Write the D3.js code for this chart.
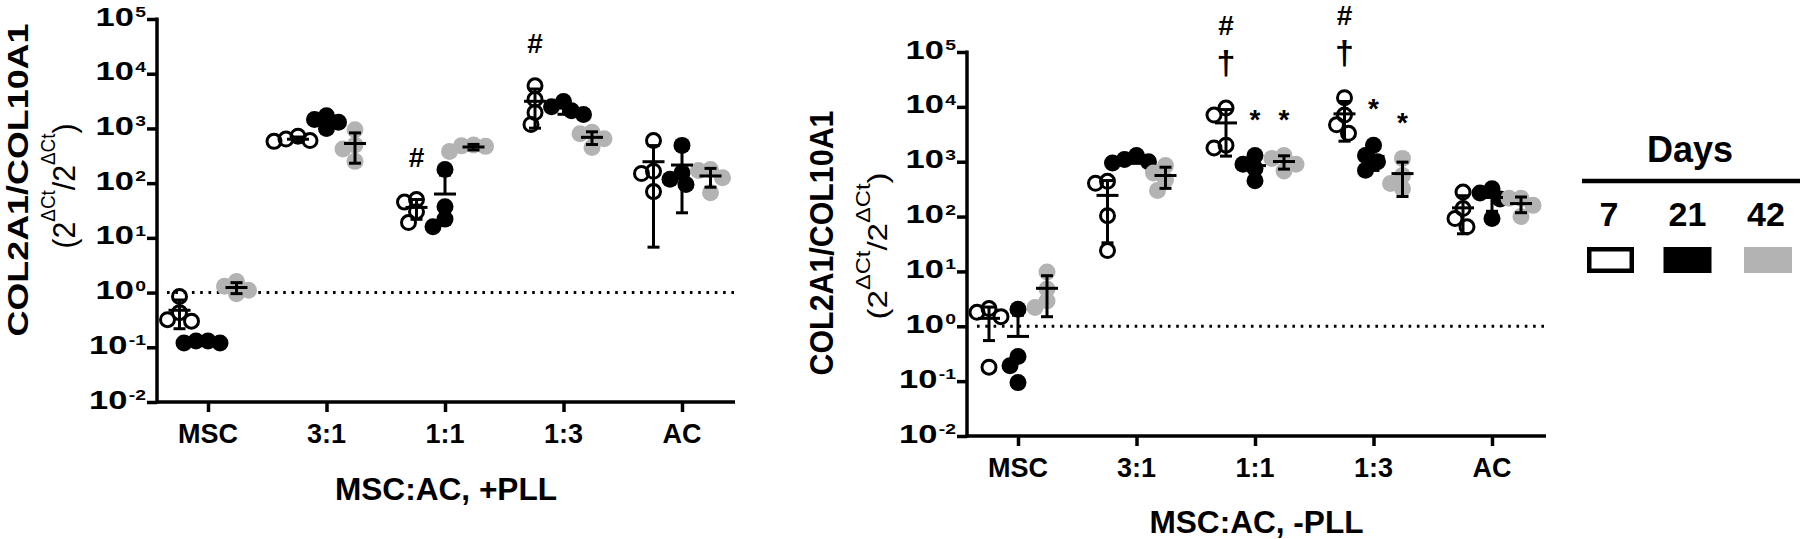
<!DOCTYPE html>
<html><head><meta charset="utf-8">
<script src="https://cdn.jsdelivr.net/npm/d3@7"></script>
<style>body{margin:0;background:#fff}svg{display:block}</style>
</head><body><svg id="c" width="1800" height="539"></svg>
<script>
// ---------------- data ----------------
const categories = ["MSC", "3:1", "1:1", "1:3", "AC"];
const days = ["7", "21", "42"];
const yTickExps = [-2, -1, 0, 1, 2, 3, 4, 5];

// +PLL panel: replicate values per category (MSC, 3:1, 1:1, 1:3, AC)
const plusPLL_day7  = [[0.43, 0.32, 0.30, 0.85], [720, 600, 580, 640], [45, 50, 30, 19], [6000, 3400, 1950, 1180], [600, 165, 70, 150]];
const plusPLL_day21 = [[0.12, 0.13, 0.12, 0.13], [1000, 1300, 1450, 1700], [178, 37, 22, 16], [2500, 1800, 3100, 2100], [490, 155, 94, 118]];
const plusPLL_day42 = [[0.95, 1.1, 1.3, 1.6], [950, 500, 420, 250], [380, 470, 480, 500], [800, 850, 450, 650], [178, 170, 126, 67]];

// -PLL panel
const minusPLL_day7  = [[2.1, 1.8, 1.5, 0.18], [405, 440, 104, 24], [9500, 7100, 1780, 2000], [14700, 7100, 4700, 3300], [280, 140, 92, 65]];
const minusPLL_day21 = [[2.05, 0.28, 0.19, 0.094], [1000, 1100, 950, 1300], [1300, 900, 750, 450], [2000, 1300, 1000, 700], [320, 270, 92, 210]];
const minusPLL_day42 = [[9.8, 4.8, 2.9, 2.2], [850, 620, 300, 470], [1150, 1300, 680, 900], [1150, 560, 400, 320], [215, 215, 100, 160]];

// significance marks (stacked from bottom up above the group)
const plusPLL_marks = [
  {cat: "1:1", day: "7", syms: ["#"]},
  {cat: "1:3", day: "7", syms: ["#"]}
];
const minusPLL_marks = [
  {cat: "1:1", day: "7", syms: ["†", "#"]},
  {cat: "1:3", day: "7", syms: ["†", "#"]},
  {cat: "1:1", day: "21", syms: ["*"]},
  {cat: "1:1", day: "42", syms: ["*"]},
  {cat: "1:3", day: "21", syms: ["*"]},
  {cat: "1:3", day: "42", syms: ["*"]}
];

const xTitles = ["MSC:AC, +PLL", "MSC:AC, -PLL"];
const yTitle1 = "COL2A1/COL10A1";
const legendTitle = "Days";

// ---------------- drawing ----------------
const FONT = "'Liberation Sans', Arial, Helvetica, sans-serif";
const GRAY = "#b3b3b3";
const svg = d3.select("#c");

const panels = [
  {data: [plusPLL_day7, plusPLL_day21, plusPLL_day42], marks: plusPLL_marks, title: xTitles[0],
   axX: 157, axR: 735, yTop: 19, yBot: 402, catRange: [208, 682], dayOff: 28.5, tickBase: 443, titleBase: 500,
   yl: {x1: 28, cy1: 180, len1: 313, f1: 29, x2: 75, cy2: 186, len2: 125, f2: 32, fs: 20}},
  {data: [minusPLL_day7, minusPLL_day21, minusPLL_day42], marks: minusPLL_marks, title: xTitles[1],
   axX: 967, axR: 1546, yTop: 52, yBot: 436, catRange: [1018, 1492], dayOff: 29, tickBase: 477, titleBase: 533,
   yl: {x1: 833, cy1: 243, len1: 265, f1: 33, x2: 887, cy2: 246, len2: 147, f2: 28, fs: 20}}
];

function swarm(vals, y, minDist, step) {
  const pts = vals.map(v => ({v, y: y(v)})).sort((a, b) => a.y - b.y);
  const placed = [];
  for (const p of pts) {
    p.dx = 0;
    for (let k = 0; k < 80; k++) {
      const off = (k % 2 ? -1 : 1) * Math.ceil(k / 2) * step;
      if (placed.every(q => Math.hypot(q.dx - off, q.y - p.y) >= minDist)) { p.dx = off; break; }
    }
    placed.push(p);
  }
  return placed;
}

function fitRotated(t, x, cy, len) {
  const w = t.node().getBBox().width;
  t.attr("transform", `translate(${x},${cy}) rotate(-90) scale(${len / w},1)`);
}

panels.forEach(P => {
  const g = svg.append("g");
  const y = d3.scaleLog().domain([1e-2, 1e5]).range([P.yBot, P.yTop]);
  const x = d3.scalePoint().domain(categories).range(P.catRange);
  const xd = d3.scalePoint().domain(days).range([-P.dayOff, P.dayOff]);

  // dotted reference line at 10^0
  g.append("line").attr("x1", P.axX + 10).attr("x2", P.axR).attr("y1", y(1)).attr("y2", y(1))
    .attr("stroke", "#000").attr("stroke-width", 3).attr("stroke-dasharray", "2.6 5.7");

  // y axis ticks via d3 axis
  const ya = g.append("g").attr("transform", `translate(${P.axX},0)`)
    .call(d3.axisLeft(y).tickValues(yTickExps.map(e => Math.pow(10, e))).tickSize(10).tickSizeOuter(0).tickFormat(""));
  ya.select(".domain").remove();
  ya.selectAll(".tick line").attr("stroke", "#000").attr("stroke-width", 3.5);
  // x axis ticks
  const xa = g.append("g").attr("transform", `translate(0,${P.yBot})`)
    .call(d3.axisBottom(x).tickSize(10).tickSizeOuter(0).tickFormat(""));
  xa.select(".domain").remove();
  xa.selectAll(".tick line").attr("stroke", "#000").attr("stroke-width", 3.5);
  // axis lines
  g.append("line").attr("x1", P.axX).attr("x2", P.axX).attr("y1", P.yTop - 1.5).attr("y2", P.yBot + 1.75)
    .attr("stroke", "#000").attr("stroke-width", 3.5);
  g.append("line").attr("x1", P.axX).attr("x2", P.axR).attr("y1", P.yBot).attr("y2", P.yBot)
    .attr("stroke", "#000").attr("stroke-width", 3.5);

  // y tick labels 10^n
  yTickExps.forEach(e => {
    const tg = g.append("g").attr("transform", `translate(${P.axX - 11},${y(Math.pow(10, e)) + 6.5}) scale(1.38,1)`);
    const t = tg.append("text").attr("text-anchor", "end").attr("font-family", FONT)
      .attr("font-weight", "bold").attr("font-size", 25).attr("fill", "#000");
    t.append("tspan").text("10");
    t.append("tspan").attr("font-size", 14).attr("dy", -8.5).attr("dx", 1).text(String(e));
  });

  // x tick labels
  categories.forEach(c => {
    g.append("text").attr("x", x(c)).attr("y", P.tickBase).attr("text-anchor", "middle")
      .attr("font-family", FONT).attr("font-weight", "bold").attr("font-size", 27).text(c);
  });
  // x title
  g.append("text").attr("x", (P.axX + P.axR) / 2).attr("y", P.titleBase).attr("text-anchor", "middle")
    .attr("font-family", FONT).attr("font-weight", "bold").attr("font-size", 31.6).text(P.title);

  // y title
  const t1 = g.append("text").attr("text-anchor", "middle").attr("font-family", FONT)
    .attr("font-weight", "bold").attr("font-size", P.yl.f1).text(yTitle1);
  fitRotated(t1, P.yl.x1, P.yl.cy1, P.yl.len1);
  const t2 = g.append("text").attr("text-anchor", "middle").attr("font-family", FONT)
    .attr("font-size", P.yl.f2);
  const up = 0.62 * P.yl.f2;
  t2.append("tspan").text("(2");
  t2.append("tspan").attr("font-size", P.yl.fs).attr("dy", -up).text("ΔCt");
  t2.append("tspan").attr("dy", up).text("/2");
  t2.append("tspan").attr("font-size", P.yl.fs).attr("dy", -up).text("ΔCt");
  t2.append("tspan").attr("dy", up).text(")");
  fitRotated(t2, P.yl.x2, P.yl.cy2, P.yl.len2);

  // points
  const styles = [
    {r: 7, fill: "none", stroke: "#000", sw: 3},
    {r: 8.5, fill: "#000", stroke: "none", sw: 0},
    {r: 8.5, fill: GRAY, stroke: "none", sw: 0}
  ];
  days.forEach((d, di) => {
    categories.forEach((c, ci) => {
      const pts = swarm(P.data[di][ci], y, 12, 4);
      const cx = x(c) + xd(d);
      g.selectAll(null).data(pts).join("circle")
        .attr("cx", p => cx + p.dx).attr("cy", p => p.y).attr("r", styles[di].r)
        .attr("fill", styles[di].fill).attr("stroke", styles[di].stroke).attr("stroke-width", styles[di].sw);
    });
  });

  // mean ± SD
  days.forEach((d, di) => {
    categories.forEach((c, ci) => {
      const vals = P.data[di][ci];
      const m = d3.mean(vals), sd = d3.deviation(vals);
      const cx = x(c) + xd(d);
      const top = y(m + sd), ym = y(m);
      const bot = (m - sd) > 0 ? y(m - sd) : null;
      const eb = g.append("g").attr("stroke", "#000").attr("stroke-width", 3);
      eb.append("line").attr("x1", cx).attr("x2", cx).attr("y1", top).attr("y2", bot === null ? ym : bot);
      eb.append("line").attr("x1", cx - 6).attr("x2", cx + 6).attr("y1", top).attr("y2", top);
      if (bot !== null) eb.append("line").attr("x1", cx - 6).attr("x2", cx + 6).attr("y1", bot).attr("y2", bot);
      eb.append("line").attr("x1", cx - 11).attr("x2", cx + 11).attr("y1", ym).attr("y2", ym);
    });
  });

  // significance marks
  const symStyle = {"#": {fs: 28, k: 0.36}, "†": {fs: 34, k: 0.27}, "*": {fs: 28, k: 0.58}};
  P.marks.forEach(mk => {
    const ci = categories.indexOf(mk.cat), di = days.indexOf(mk.day);
    const mx = d3.max(P.data[di][ci]);
    const cx = x(mk.cat) + xd(mk.day);
    mk.syms.forEach((s, i) => {
      const cy = y(mx) - 43 - 40 * i;
      const st = symStyle[s];
      g.append("text").attr("x", cx).attr("y", cy + st.k * st.fs).attr("text-anchor", "middle")
        .attr("font-family", FONT).attr("font-weight", "bold").attr("font-size", st.fs).text(s);
    });
  });
});

// ---------------- legend ----------------
const lg = svg.append("g");
const lx = d3.scalePoint().domain(days).range([1609, 1766]);
lg.append("text").attr("x", 1690).attr("y", 162).attr("text-anchor", "middle").attr("font-family", FONT)
  .attr("font-weight", "bold").attr("font-size", 36).text(legendTitle);
lg.append("line").attr("x1", 1582).attr("x2", 1800).attr("y1", 181).attr("y2", 181)
  .attr("stroke", "#000").attr("stroke-width", 4.5);
days.forEach((d, i) => {
  lg.append("text").attr("x", lx(d)).attr("y", 226).attr("text-anchor", "middle").attr("font-family", FONT)
    .attr("font-weight", "bold").attr("font-size", 34).text(d);
  const cx = lx(d) + (i === 0 ? 1.5 : i === 2 ? 2 : 0);
  if (i === 0) {
    lg.append("rect").attr("x", cx - 21.25).attr("y", 249.25).attr("width", 42.5).attr("height", 21.5)
      .attr("fill", "#fff").attr("stroke", "#000").attr("stroke-width", 4.5);
  } else {
    lg.append("rect").attr("x", cx - 24).attr("y", 247).attr("width", 48).attr("height", 26)
      .attr("fill", i === 1 ? "#000" : GRAY);
  }
});
</script>
</body></html>
